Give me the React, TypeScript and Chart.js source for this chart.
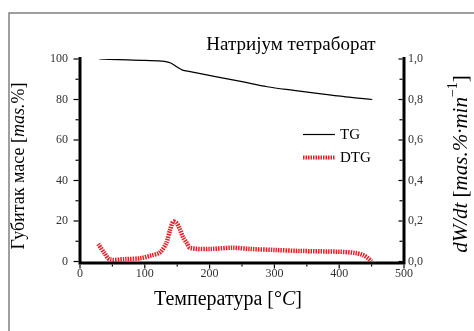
import React, { useEffect, useRef } from "react";
import { Chart, registerables } from "chart.js";

Chart.register(...registerables);

// ---- data ----
const tgTemp = [30, 60, 100, 130, 140, 150, 158, 170, 211, 250, 289, 330, 366, 410, 451];
const tgMass = [100.0, 99.7, 99.3, 98.8, 98.0, 96.0, 94.5, 93.8, 91.2, 88.8, 86.3, 84.5, 83.0, 81.3, 80.0];

const dtgTemp = [28, 38, 46, 70, 93, 110, 123, 133, 139, 144, 149, 154, 159, 165, 170, 200, 236, 262, 301, 340, 401, 425, 437, 445, 450];
const dtgRate = [0.087, 0.04, 0.01, 0.012, 0.016, 0.03, 0.044, 0.09, 0.156, 0.197, 0.19, 0.16, 0.12, 0.09, 0.067, 0.062, 0.068, 0.062, 0.057, 0.052, 0.048, 0.042, 0.032, 0.015, 0.0];

const xMajorTicks = [0, 100, 200, 300, 400, 500];
const leftMajorTicks = [0, 20, 40, 60, 80, 100];
const rightMajorTicks = [0, 0.2, 0.4, 0.6, 0.8, 1.0];

const chartTitle = "Натријум тетраборат";
const seriesNames = ["TG", "DTG"];

const SERIF = "'Liberation Serif', 'Times New Roman', serif";
const RED = "#ee1c25";

type Part = { t: string; i?: boolean; sup?: boolean };

function drawRich(ctx: CanvasRenderingContext2D, parts: Part[], size: number) {
  const fontFor = (p: Part) =>
    `${p.i ? "italic " : ""}${p.sup ? Math.round(size * 0.65) : size}px ${SERIF}`;
  let total = 0;
  for (const p of parts) {
    ctx.font = fontFor(p);
    total += ctx.measureText(p.t).width;
  }
  let x = -total / 2;
  ctx.textBaseline = "middle";
  ctx.textAlign = "left";
  for (const p of parts) {
    ctx.font = fontFor(p);
    ctx.fillText(p.t, x, p.sup ? -size * 0.35 : 0);
    x += ctx.measureText(p.t).width;
  }
}

const decorPlugin = {
  id: "decor",
  beforeDraw(chart: any) {
    const ctx = chart.ctx as CanvasRenderingContext2D;
    ctx.save();
    ctx.strokeStyle = "#808080";
    ctx.lineWidth = 1.5;
    ctx.beginPath();
    ctx.moveTo(9, 340);
    ctx.lineTo(9, 13);
    ctx.lineTo(480, 13);
    ctx.stroke();
    ctx.restore();
  },
  afterDraw(chart: any) {
    const ctx = chart.ctx as CanvasRenderingContext2D;
    const x = chart.scales.x;
    const y = chart.scales.y;
    const y1 = chart.scales.y1;
    const { left, right, top, bottom } = chart.chartArea;
    ctx.save();
    ctx.strokeStyle = "#000";
    ctx.lineCap = "butt";

    // axis lines
    ctx.lineWidth = 3;
    ctx.beginPath();
    ctx.moveTo(left, top - 2);
    ctx.lineTo(left, bottom + 1.5);
    ctx.lineTo(right, bottom + 1.5);
    ctx.lineTo(right, top - 2);
    ctx.stroke();

    ctx.lineWidth = 1.2;
    // left ticks (outward)
    for (let v = 0; v <= 100; v += 10) {
      const py = y.getPixelForValue(v);
      const len = v % 20 === 0 ? 5 : 3;
      ctx.beginPath();
      ctx.moveTo(left - 1.5, py);
      ctx.lineTo(left - 1.5 - len, py);
      ctx.stroke();
    }
    // right ticks (inward)
    for (let k = 0; k <= 10; k++) {
      const py = y1.getPixelForValue(k / 10);
      const len = k % 2 === 0 ? 4 : 3;
      ctx.beginPath();
      ctx.moveTo(right - 1.5, py);
      ctx.lineTo(right - 1.5 - len, py);
      ctx.stroke();
    }
    // x ticks (down)
    for (let v = 0; v <= 500; v += 50) {
      const px = x.getPixelForValue(v);
      const len = v % 100 === 0 ? 4 : 2;
      ctx.beginPath();
      ctx.moveTo(px, bottom + 3);
      ctx.lineTo(px, bottom + 3 + len);
      ctx.stroke();
    }

    // chart title
    ctx.fillStyle = "#000";
    ctx.save();
    ctx.translate(291, 45);
    drawRich(ctx, [{ t: chartTitle }], 19);
    ctx.restore();

    // x title
    ctx.save();
    ctx.translate(228, 300);
    drawRich(ctx, [{ t: "Температура [°" }, { t: "C", i: true }, { t: "]" }], 20);
    ctx.restore();

    // left title
    ctx.save();
    ctx.translate(19, 166);
    ctx.rotate(-Math.PI / 2);
    drawRich(ctx, [{ t: "Губитак масе [" }, { t: "mas.", i: true }, { t: "%]" }], 18);
    ctx.restore();

    // right title
    ctx.save();
    ctx.translate(461, 164);
    ctx.rotate(-Math.PI / 2);
    drawRich(
      ctx,
      [
        { t: "dW/dt", i: true },
        { t: " [" },
        { t: "mas.%·min", i: true },
        { t: "−1", sup: true },
        { t: "]" },
      ],
      21
    );
    ctx.restore();

    // legend
    ctx.lineWidth = 1.2;
    ctx.strokeStyle = "#000";
    ctx.beginPath();
    ctx.moveTo(303, 134.5);
    ctx.lineTo(335, 134.5);
    ctx.stroke();
    ctx.strokeStyle = RED;
    ctx.lineWidth = 4;
    ctx.setLineDash([1.5, 1]);
    ctx.beginPath();
    ctx.moveTo(303, 157.5);
    ctx.lineTo(335, 157.5);
    ctx.stroke();
    ctx.setLineDash([]);
    ctx.fillStyle = "#000";
    ctx.font = `15px ${SERIF}`;
    ctx.textAlign = "left";
    ctx.textBaseline = "middle";
    ctx.fillText(seriesNames[0], 340, 135);
    ctx.fillText(seriesNames[1], 340, 158);

    ctx.restore();
  },
};

export default function App() {
  const ref = useRef<HTMLCanvasElement | null>(null);
  useEffect(() => {
    if (!ref.current) return;
    const tickFont = { family: SERIF, size: 12 };
    const chart = new Chart(ref.current, {
      type: "line",
      data: {
        datasets: [
          {
            label: seriesNames[0],
            data: tgTemp.map((t, i) => ({ x: t, y: tgMass[i] })),
            yAxisID: "y",
            borderColor: "#000",
            borderWidth: 1.2,
            pointRadius: 0,
            cubicInterpolationMode: "monotone",
            fill: false,
          },
          {
            label: seriesNames[1],
            data: dtgTemp.map((t, i) => ({ x: t, y: dtgRate[i] })),
            yAxisID: "y1",
            borderColor: RED,
            borderWidth: 4.5,
            borderDash: [1.5, 1],
            borderCapStyle: "butt",
            pointRadius: 0,
            tension: 0.3,
            fill: false,
          },
        ],
      },
      options: {
        responsive: false,
        animation: false,
        devicePixelRatio: 1,
        layout: { padding: { top: 59, left: 0, right: 0, bottom: 0 } },
        plugins: { legend: { display: false }, tooltip: { enabled: false }, title: { display: false } },
        scales: {
          x: {
            type: "linear",
            min: 0,
            max: 500,
            afterBuildTicks: (s: any) => {
              s.ticks = xMajorTicks.map((v) => ({ value: v }));
            },
            ticks: { font: tickFont, color: "#333", padding: 5, maxRotation: 0, autoSkip: false },
            grid: { display: false, drawTicks: false },
            border: { display: false },
            afterFit: (s: any) => {
              s.height = 69.5;
            },
          },
          y: {
            type: "linear",
            position: "left",
            min: 0,
            max: 100,
            afterBuildTicks: (s: any) => {
              s.ticks = leftMajorTicks.map((v) => ({ value: v }));
            },
            ticks: { font: tickFont, color: "#333", padding: 12 },
            grid: { display: false, drawTicks: false },
            border: { display: false },
            afterFit: (s: any) => {
              s.width = 80;
            },
          },
          y1: {
            type: "linear",
            position: "right",
            min: 0,
            max: 1,
            afterBuildTicks: (s: any) => {
              s.ticks = rightMajorTicks.map((v) => ({ value: v }));
            },
            ticks: {
              font: tickFont,
              color: "#333",
              padding: 4,
              callback: (v: any) => Number(v).toFixed(1).replace(".", ","),
            },
            grid: { display: false, drawTicks: false },
            border: { display: false },
            afterFit: (s: any) => {
              s.width = 70;
            },
          },
        },
      },
      plugins: [decorPlugin],
    } as any);
    return () => chart.destroy();
  }, []);
  return (
    <div style={{ position: "absolute", left: 0, top: 0, width: 474, height: 331, background: "#fff" }}>
      <canvas ref={ref} width={474} height={331} style={{ width: 474, height: 331, display: "block" }} />
    </div>
  );
}
